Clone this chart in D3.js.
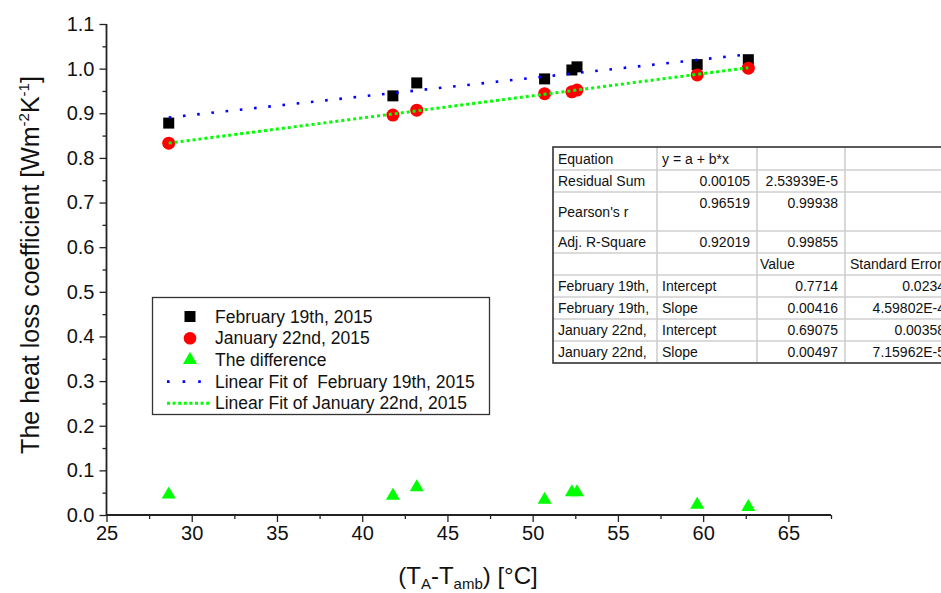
<!DOCTYPE html>
<html>
<head>
<meta charset="utf-8">
<script src="https://cdn.jsdelivr.net/npm/d3@7/dist/d3.min.js"></script>
<style>
  html, body { margin: 0; padding: 0; background: #fff; }
  svg { display: block; font-family: "Liberation Sans", Arial, sans-serif; }
</style>
</head>
<body>
<svg id="chart" width="941" height="593"></svg>
<script>
// ---- data ----
const xValues   = [28.65, 41.8, 43.2, 50.7, 52.3, 52.6, 59.65, 62.65];
const febValues = [0.878, 0.939, 0.968, 0.977, 0.997, 1.004, 1.009, 1.020];
const janValues = [0.833, 0.896, 0.907, 0.944, 0.948, 0.952, 0.986, 1.001];
const diffValues = [0.046, 0.043, 0.062, 0.034, 0.051, 0.051, 0.023, 0.018];

// linear fit lines (end points, from fit table)
const fitX    = [28.65, 62.65];
const fitFebY = [0.8906, 1.0320];
const fitJanY = [0.8331, 1.0021];

const xTicks = [25, 30, 35, 40, 45, 50, 55, 60, 65];
const yTicks = [0.0, 0.1, 0.2, 0.3, 0.4, 0.5, 0.6, 0.7, 0.8, 0.9, 1.0, 1.1];

const legendLabels = ["February 19th, 2015", "January 22nd, 2015", "The difference",
  "Linear Fit of  February 19th, 2015", "Linear Fit of January 22nd, 2015"];

const tableCol1 = ["Equation", "Residual Sum", "Pearson's r", "Adj. R-Square", "",
  "February 19th,", "February 19th,", "January 22nd,", "January 22nd,"];
const tableCol2 = ["y = a + b*x", "0.00105", "0.96519", "0.92019", "",
  "Intercept", "Slope", "Intercept", "Slope"];
const tableCol3 = ["", "2.53939E-5", "0.99938", "0.99855", "Value",
  "0.7714", "0.00416", "0.69075", "0.00497"];
const tableCol4 = ["", "", "", "", "Standard Error",
  "0.0234", "4.59802E-4", "0.00358", "7.15962E-5"];

// ---- layout ----
const svg = d3.select("#chart");
const x = d3.scaleLinear().domain([25, 67.5]).range([106.5, 831]);
const y = d3.scaleLinear().domain([0, 1.1]).range([515, 24]);
const axisColor = "#222";

// axes (ticks + labels from d3 axes, domain line drawn separately)
const gx = svg.append("g").attr("transform", `translate(0,${y(0)})`);
gx.call(d3.axisBottom(x).tickValues(xTicks).tickSize(7).tickPadding(4).tickFormat(d3.format("d")));
const gxm = svg.append("g").attr("transform", `translate(0,${y(0)})`);
gxm.call(d3.axisBottom(x).tickValues(d3.range(27.5, 68, 5)).tickSize(4).tickFormat(""));
const gy = svg.append("g").attr("transform", `translate(${x(25)},0)`);
gy.call(d3.axisLeft(y).tickValues(yTicks).tickSize(7).tickPadding(5).tickFormat(d3.format(".1f")));
const gym = svg.append("g").attr("transform", `translate(${x(25)},0)`);
gym.call(d3.axisLeft(y).tickValues(d3.range(0.05, 1.1, 0.1)).tickSize(4).tickFormat(""));
svg.selectAll(".domain").remove();
svg.selectAll(".tick line").attr("stroke", axisColor).attr("stroke-width", 1.3);
svg.selectAll(".tick text").attr("fill", "#111").style("font-size", "20px")
   .style("font-family", "Liberation Sans, Arial, sans-serif");
svg.append("line").attr("x1", x(25)).attr("x2", x(67.5)).attr("y1", y(0)).attr("y2", y(0))
  .attr("stroke", axisColor).attr("stroke-width", 1.8);
svg.append("line").attr("x1", x(25)).attr("x2", x(25)).attr("y1", y(0) + 0.9).attr("y2", y(1.1))
  .attr("stroke", axisColor).attr("stroke-width", 1.8);

// axis titles
const yt = svg.append("text")
  .attr("transform", `translate(39,265) rotate(-90)`)
  .attr("text-anchor", "middle")
  .style("font-size", "25px").attr("fill", "#111");
yt.append("tspan").text("The heat loss coefficient [Wm");
yt.append("tspan").text("-2").style("font-size", "15px").attr("dy", -10);
yt.append("tspan").text("K").attr("dy", 10);
yt.append("tspan").text("-1").style("font-size", "15px").attr("dy", -10);
yt.append("tspan").text("]").attr("dy", 10);

const xt = svg.append("text")
  .attr("x", 468).attr("y", 584)
  .attr("text-anchor", "middle")
  .style("font-size", "24px").attr("fill", "#111");
xt.append("tspan").text("(T");
xt.append("tspan").text("A").style("font-size", "15px").attr("dy", 5);
xt.append("tspan").text("-T").attr("dy", -5);
xt.append("tspan").text("amb").style("font-size", "15px").attr("dy", 5);
xt.append("tspan").text(") [°C]").attr("dy", -5);

// markers
const line = d3.line().x(d => x(d[0])).y(d => y(d[1]));
const sq = 11;
svg.append("g").selectAll("rect").data(d3.zip(xValues, febValues)).join("rect")
  .attr("x", d => x(d[0]) - sq / 2).attr("y", d => y(d[1]) - sq / 2)
  .attr("width", sq).attr("height", sq).attr("fill", "#000");
svg.append("g").selectAll("circle").data(d3.zip(xValues, janValues)).join("circle")
  .attr("cx", d => x(d[0])).attr("cy", d => y(d[1])).attr("r", 6.5).attr("fill", "#ff0000");
const tri = d3.symbol().type(d3.symbolTriangle).size(85);
svg.append("g").selectAll("path").data(d3.zip(xValues, diffValues)).join("path")
  .attr("d", tri).attr("transform", d => `translate(${x(d[0])},${y(d[1])})`)
  .attr("fill", "#00ff00");

// fit lines (drawn over the markers, as in the reference)
svg.append("path").datum(d3.zip(fitX, fitJanY)).attr("d", line)
  .attr("fill", "none").attr("stroke", "#00ff00").attr("stroke-width", 3)
  .attr("stroke-dasharray", "3,3");
svg.append("path").datum(d3.zip(fitX, fitFebY)).attr("d", line)
  .attr("fill", "none").attr("stroke", "#0000ff").attr("stroke-width", 2.6)
  .attr("stroke-dasharray", "2.6,11.7");

// legend
const lg = svg.append("g");
lg.append("rect").attr("x", 152.5).attr("y", 297.5).attr("width", 337).attr("height", 117)
  .attr("fill", "#fff").attr("stroke", "#333").attr("stroke-width", 1.3);
const rowY = i => 316.5 + i * 21.7;
lg.append("rect").attr("x", 190 - 5.5).attr("y", rowY(0) - 5.5).attr("width", 11).attr("height", 11).attr("fill", "#000");
lg.append("circle").attr("cx", 190).attr("cy", rowY(1)).attr("r", 6.3).attr("fill", "#ff0000");
lg.append("path").attr("d", tri).attr("transform", `translate(190,${rowY(2)})`).attr("fill", "#00ff00");
lg.append("line").attr("x1", 167).attr("x2", 202).attr("y1", rowY(3)).attr("y2", rowY(3))
  .attr("stroke", "#0000ff").attr("stroke-width", 2.6).attr("stroke-dasharray", "2.6,13");
lg.append("line").attr("x1", 167).attr("x2", 210).attr("y1", rowY(4)).attr("y2", rowY(4))
  .attr("stroke", "#00ff00").attr("stroke-width", 3).attr("stroke-dasharray", "3,2.6");
lg.selectAll("text.lab").data(legendLabels).join("text").attr("class", "lab")
  .attr("x", 215).attr("y", (d, i) => rowY(i) + 6)
  .style("font-size", "17.5px").attr("fill", "#111")
  .style("white-space", "pre").attr("xml:space", "preserve")
  .text(d => d);

// fit table
const tg = svg.append("g");
const colX = [553, 657, 757, 845, 1040];
const rowLines = [147, 170, 192, 231, 253, 275, 297, 319, 341, 363];
const cols = [tableCol1, tableCol2, tableCol3, tableCol4];
tg.append("rect").attr("x", colX[0]).attr("y", rowLines[0]).attr("width", colX[4] - colX[0])
  .attr("height", rowLines[9] - rowLines[0]).attr("fill", "#fff");
rowLines.slice(1, -1).forEach(r => tg.append("line").attr("x1", colX[0]).attr("x2", colX[4])
  .attr("y1", r).attr("y2", r).attr("stroke", "#cfcfcf").attr("stroke-width", 1.6));
colX.slice(1, -1).forEach(c => tg.append("line").attr("x1", c).attr("x2", c)
  .attr("y1", rowLines[0]).attr("y2", rowLines[9]).attr("stroke", "#cfcfcf").attr("stroke-width", 1.6));
tg.append("rect").attr("x", colX[0]).attr("y", rowLines[0]).attr("width", colX[4] - colX[0])
  .attr("height", rowLines[9] - rowLines[0]).attr("fill", "none")
  .attr("stroke", "#333").attr("stroke-width", 1.6);

const textRows = [];
cols.forEach((col, ci) => col.forEach((t, ri) => { if (t) textRows.push({t, ci, ri}); }));
const isRight = d => {
  if (d.ci === 0) return false;
  if (d.ci === 1) return d.ri >= 1 && d.ri <= 3;
  if (d.ri === 4) return false;
  return true;
};
tg.selectAll("text").data(textRows).join("text")
  .style("font-size", "14px").attr("fill", "#111")
  .attr("text-anchor", d => isRight(d) ? "end" : "start")
  .attr("x", d => {
    if (d.ci === 3 && isRight(d)) return 945;
    return isRight(d) ? colX[d.ci + 1] - 7 : colX[d.ci] + (d.ci === 2 ? 3 : 5);
  })
  .attr("y", d => {
    const top = rowLines[d.ri], bot = rowLines[d.ri + 1];
    if (d.ri === 2 && d.ci > 0) return top + 16;
    return (top + bot) / 2 + 5;
  })
  .text(d => d.t);
</script>
</body>
</html>
